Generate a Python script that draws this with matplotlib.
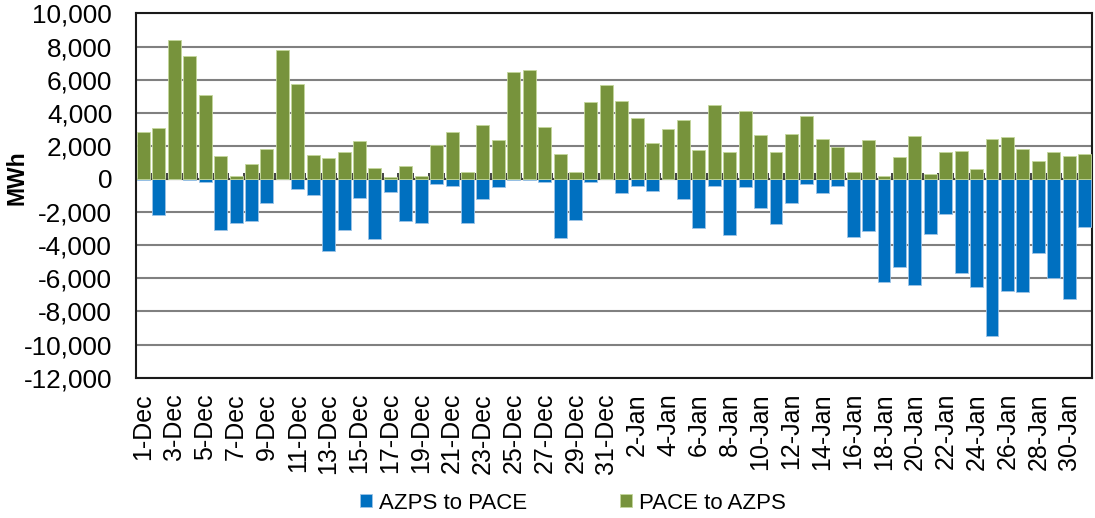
import numpy as np
import matplotlib.pyplot as plt

plt.rcParams['font.family'] = ['Liberation Sans', 'DejaVu Sans']

# Daily energy flows, 1-Dec through 31-Jan (MWh)
dias = [f'{d}-Dec' for d in range(1, 32)] + [f'{d}-Jan' for d in range(1, 32)]

pace_a_azps = [2850, 3100, 8400, 7430, 5070, 1370, 180, 910, 1800, 7800,
               5720, 1455, 1250, 1615, 2280, 665, 140, 770, 200, 2060,
               2830, 425, 3290, 2380, 6465, 6585, 3150, 1495, 405, 4665,
               5675,
               4690, 3700, 2200, 3030, 3555, 1740, 4465, 1615, 4080, 2645,
               1655, 2725, 3800, 2425, 1960, 405, 2345, 180, 1315, 2585,
               285, 1655, 1715, 585, 2405, 2545, 1820, 1110, 1615, 1395,
               1515]

azps_a_pace = [-80, -2180, 0, -80, -160, -3110, -2630, -2525, -1475, 0,
               -585, -990, -4340, -3090, -1130, -3600, -810, -2525, -2630, -280,
               -400, -2630, -1230, -505, -40, -80, -180, -3575, -2485, -160,
               0,
               -870, -400, -730, 0, -1210, -2950, -425, -3355, -485, -1735,
               -2705, -1455, -325, -830, -425, -3475, -3170, -6240, -5335, -6385,
               -3335, -2120, -5655, -6545, -9515, -6765, -6805, -4485, -6000, -7270,
               -2890]

azul = '#0070C0'
verde = '#77933C'

x = np.arange(len(dias))

fig = plt.figure(figsize=(10.95, 5.18), dpi=100)
ax = fig.add_axes([0.124, 0.271, 0.8735, 0.703])

ax.bar(x, azps_a_pace, width=0.84, color=azul, edgecolor='#9DC3E6',
       linewidth=0.6, label='AZPS to PACE', zorder=3)
ax.bar(x, pace_a_azps, width=0.84, color=verde, edgecolor='#C4D79B',
       linewidth=0.6, label='PACE to AZPS', zorder=3)

ax.set_xlim(-0.5, len(dias) - 0.5)
ax.set_ylim(-12000, 10000)
ax.set_yticks(np.arange(-12000, 10001, 2000))
ax.yaxis.set_major_formatter(plt.FuncFormatter(lambda v, p: f'{v:,.0f}'))
ax.yaxis.grid(True, color='#808080', linewidth=1.5, zorder=0)
ax.axhline(0, color='#404040', linewidth=1.5, zorder=2)

ax.set_xticks(x[::2])
ax.set_xticklabels(dias[::2], rotation=90)
ax.tick_params(axis='x', length=0, pad=11, labelsize=18)
ax.tick_params(axis='y', length=0, pad=17, labelsize=18.8)

# small tick marks hanging off the zero line at category boundaries
eje0 = ax.secondary_xaxis(12000 / 22000)
eje0.set_xticks(np.arange(0.5, len(dias) - 1, 1))
eje0.set_xticklabels([])
eje0.tick_params(direction='out', length=4, width=1.2, color='#222222')
eje0.spines['bottom'].set_visible(False)
eje0.spines['top'].set_visible(False)

for s in ax.spines.values():
    s.set_color('#1a1a1a')
    s.set_linewidth(1.5)

ax.set_ylabel('MWh', fontsize=16.5, fontweight='bold')
ax.yaxis.set_label_coords(-0.112, 0.55)

fig.legend(loc='lower center', bbox_to_anchor=(0.523, -0.03), ncol=2,
           frameon=False, fontsize=16, handlelength=0.55, handleheight=0.55,
           handletextpad=0.3, columnspacing=4.2)

fig.savefig('out.png', dpi=100)
